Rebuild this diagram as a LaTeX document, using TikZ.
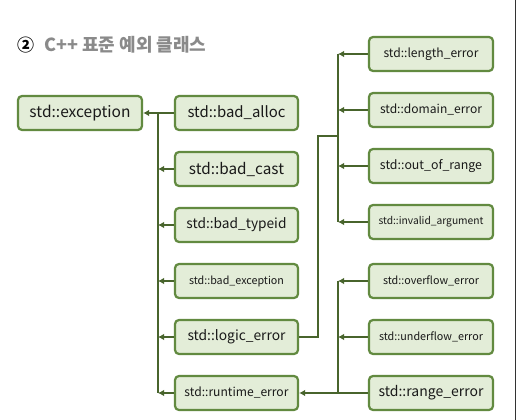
\documentclass[tikz,border=0pt]{standalone}
\usepackage{fontspec}
\setmainfont{Noto Sans}
\newfontfamily\krfont{Noto Sans CJK KR}
\usetikzlibrary{arrows.meta}
\definecolor{boxfill}{RGB}{227,237,216}
\definecolor{boxline}{RGB}{98,138,64}
\definecolor{linkc}{RGB}{72,100,44}
\definecolor{titlegray}{RGB}{138,138,138}
\definecolor{txt}{RGB}{25,25,25}
\newcommand{\fitw}[2]{\resizebox{#1pt}{!}{#2}}
\tikzset{
  cls/.style={draw=boxline, fill=boxfill, line width=2.2pt, rounded corners=4pt,
    minimum width=123pt, minimum height=34pt, inner sep=0pt, text=txt,
    font=\krfont\fontsize{14}{16}\selectfont},
  link/.style={draw=linkc, line width=2pt},
  arr/.style={link, -{Latex[length=6pt,width=6.5pt]}},
}
\begin{document}
\begin{tikzpicture}[x=1pt,y=-1pt]
\useasboundingbox (0,0) rectangle (520,420);
\fill[white] (0,0) rectangle (520,420);
% title
\node[anchor=west, inner sep=0pt, font=\krfont\bfseries\fontsize{17}{20}\selectfont] (num) at (17,45) {②};
\node[anchor=west, inner sep=0pt, text=titlegray, font=\krfont\bfseries\fontsize{18}{21}\selectfont] (title) at (44,45) {C++ 표준 예외 클래스};
% left side
\node[cls, minimum width=124pt] (ex) at (80,113) {\fitw{101}{std::exception}};
\node[cls] (ba) at (236.5,113) {\fitw{98}{std::bad\_alloc}};
\node[cls] (bc) at (236.5,169) {\fitw{95}{std::bad\_cast}};
\node[cls] (bt) at (236.5,225) {\fitw{100}{std::bad\_typeid}};
\node[cls] (be) at (236.5,281) {\fitw{95}{std::bad\_exception}};
\node[cls] (le) at (236.5,337) {\fitw{98}{std::logic\_error}};
\node[cls] (re) at (236.5,393) {\fitw{104}{std::runtime\_error}};
% right side
\node[cls, minimum width=124pt] (len) at (431,54) {\fitw{95}{std::length\_error}};
\node[cls, minimum width=124pt] (dom) at (431,110) {\fitw{102}{std::domain\_error}};
\node[cls, minimum width=124pt] (oor) at (431,166) {\fitw{102}{std::out\_of\_range}};
\node[cls, minimum width=124pt] (inv) at (431,222) {\fitw{105}{std::invalid\_argument}};
\node[cls, minimum width=124pt] (ov) at (431,281) {\fitw{96}{std::overflow\_error}};
\node[cls, minimum width=124pt] (un) at (431,337) {\fitw{104}{std::underflow\_error}};
\node[cls, minimum width=124pt] (rg) at (431,393) {\fitw{105}{std::range\_error}};
% trunks
\coordinate (t1) at (158,113);
\coordinate (t2) at (158,393);
\coordinate (r1) at (338,54);
\coordinate (r2) at (338,222);
\coordinate (r3) at (338,281);
\coordinate (lk) at (318,136);
\draw[link] (t1) -- (t2);
\draw[arr] (ba.west) -- (ex.east);
\foreach \n in {bc,bt,be,le,re} \draw[arr] (\n.west) -- (\n.west -| t1);
\draw[link] (r1) -- (r2);
\foreach \n in {len,dom,oor,inv} \draw[arr] (\n.west) -- (\n.west -| r1);
\draw[link] (le.east) -| (lk) -- (lk -| r1);
\draw[link] (r3) -- (rg.west -| r3);
\foreach \n in {ov,un} \draw[arr] (\n.west) -- (\n.west -| r3);
\draw[arr] (rg.west) -- (re.east);
% right edge line
\draw[black!80, line width=1.5pt] (515.5,0) -- (515.5,420);
\end{tikzpicture}
\end{document}
